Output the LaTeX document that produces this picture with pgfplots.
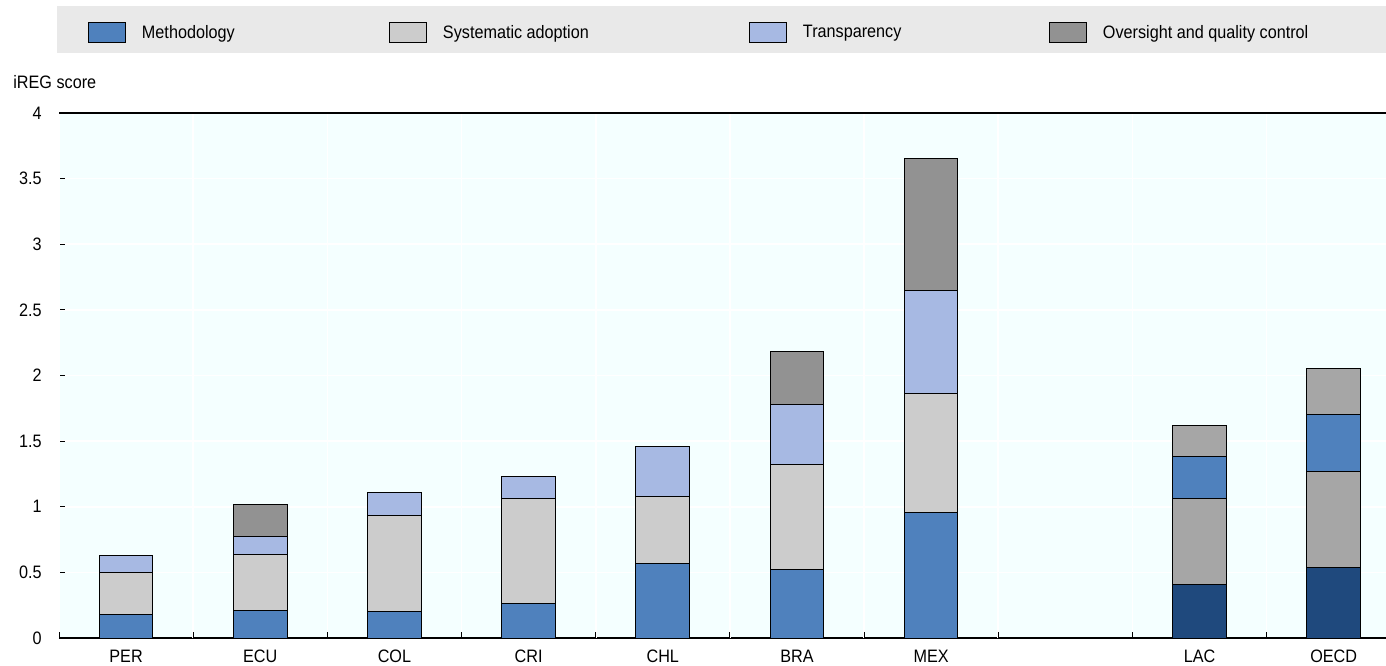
\documentclass[border=0pt]{standalone}
\usepackage{fontspec}
\setmainfont{Liberation Sans}[FakeStretch=0.9]
\usepackage{pgfplots}
\pgfplotsset{compat=1.18}
\definecolor{cM}{HTML}{4F81BD}
\definecolor{cS}{HTML}{CCCCCC}
\definecolor{cT}{HTML}{A7B9E3}
\definecolor{cO}{HTML}{929292}
\definecolor{cMa}{HTML}{1F497D}
\definecolor{cSa}{HTML}{A6A6A6}
\definecolor{bgc}{HTML}{F4FFFF}
\definecolor{bandc}{HTML}{E9E9E9}
\begin{document}
\begin{tikzpicture}[font=\fontsize{9}{11}\selectfont]
\begin{axis}[
  name=ax, at={(0,0)}, anchor=south west,
  scale only axis, width=663.5pt, height=262.5pt,
  xmin=-0.5, xmax=9.39, ymin=0, ymax=4,
  ybar stacked, bar width=0.4,
  clip=false,
  axis lines=left,
  axis line style={-, black, line width=0.8pt},
  axis background/.style={fill=bgc},
  ymajorgrids, major grid style={white, line width=0.8pt},
  ytick={0,0.5,...,4},
  tick align=inside, major tick length=3pt,
  tick style={black, line width=0.5pt},
  xtick={0,1,2,3,4,5,6,8,9},
  xticklabels={PER,ECU,COL,CRI,CHL,BRA,MEX,LAC,OECD},
  xtick style={draw=none},
  extra x ticks={-0.5,0.5,1.5,2.5,3.5,4.5,5.5,6.5,7.5,8.5},
  extra x tick labels={},
  extra x tick style={grid=major, xtick style={draw=black, line width=0.5pt}},
  /pgf/number format/assume math mode=true,
  ticklabel style={font=\fontsize{9}{11}\selectfont, inner sep=0pt},
  yticklabel style={xshift=-8.5pt},
  xticklabel style={yshift=-6pt},
  every axis plot/.append style={draw=black, line width=0.5pt},
  legend columns=4,
  legend style={draw=none, fill=none, inner sep=0pt, outer sep=0pt,
    at={(0.02185,1.1524)}, anchor=west,
    font=\fontsize{9}{11}\selectfont,
    nodes={inner sep=0pt},
    /tikz/every odd column/.append style={column sep=8pt}},
  legend cell align=left,
  legend image code/.code={\draw[#1, line width=0.5pt] (0pt,-5pt) rectangle (18.5pt,5pt);},
]
\fill[bandc] (rel axis cs:-0.0015,1.1143) rectangle (rel axis cs:1,1.2038);
\draw[black, line width=0.8pt] (rel axis cs:0,1) -- (rel axis cs:1,1);
\node[anchor=west, inner sep=0pt] at (rel axis cs:0,1) [xshift=-23pt, yshift=15.5pt] {iREG score};
% country series
\addplot[fill=cM] coordinates {(0,0.18) (1,0.21) (2,0.20) (3,0.26) (4,0.57) (5,0.52) (6,0.96) (8,0) (9,0)};
\addlegendentry{\makebox[123.5pt][l]{Methodology}}
\addplot[fill=cS] coordinates {(0,0.32) (1,0.43) (2,0.73) (3,0.80) (4,0.51) (5,0.80) (6,0.90) (8,0) (9,0)};
\addlegendentry{\makebox[153pt][l]{Systematic adoption}}
\addplot[fill=cT] coordinates {(0,0.13) (1,0.13) (2,0.18) (3,0.17) (4,0.38) (5,0.46) (6,0.79) (8,0) (9,0)};
\addlegendentry{\makebox[123pt][l]{Transparency}}
\addplot[fill=cO] coordinates {(0,0) (1,0.25) (2,0) (3,0) (4,0) (5,0.40) (6,1.00) (8,0) (9,0)};
\addlegendentry{Oversight and quality control}
% aggregate series
\addplot[fill=cMa] coordinates {(0,0) (1,0) (2,0) (3,0) (4,0) (5,0) (6,0) (8,0.41) (9,0.54)};
\addplot[fill=cSa] coordinates {(0,0) (1,0) (2,0) (3,0) (4,0) (5,0) (6,0) (8,0.65) (9,0.73)};
\addplot[fill=cM] coordinates {(0,0) (1,0) (2,0) (3,0) (4,0) (5,0) (6,0) (8,0.32) (9,0.43)};
\addplot[fill=cSa] coordinates {(0,0) (1,0) (2,0) (3,0) (4,0) (5,0) (6,0) (8,0.24) (9,0.35)};
\end{axis}
\pgfresetboundingbox
\path[use as bounding box] ([xshift=-29.5pt,yshift=-13.5pt]ax.south west) rectangle ([yshift=56.5pt]ax.north east);
\end{tikzpicture}
\end{document}
